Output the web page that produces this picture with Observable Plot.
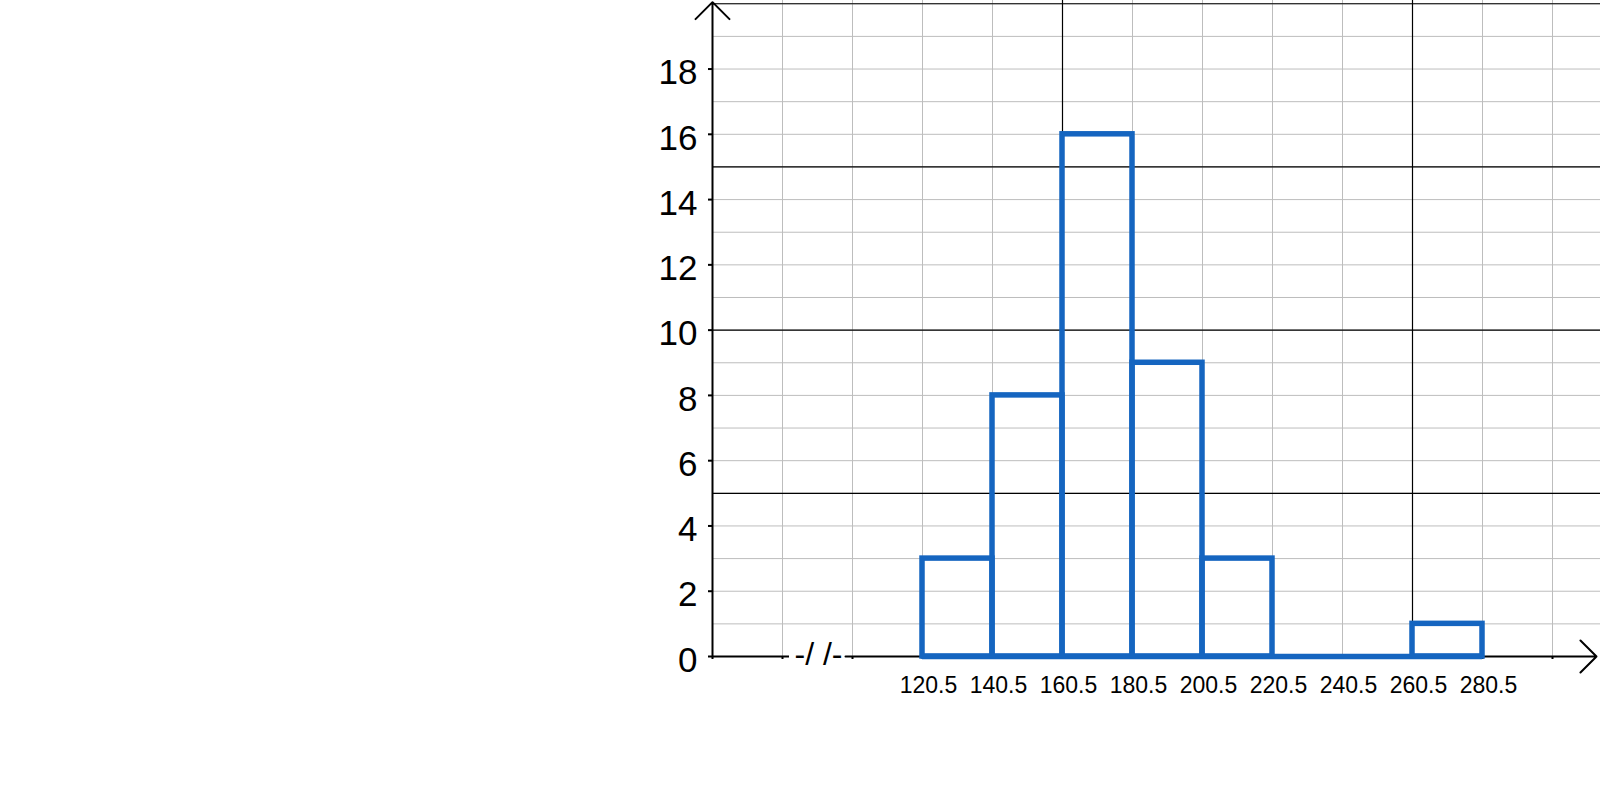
<!DOCTYPE html>
<html>
<head>
<meta charset="utf-8">
<script src="https://cdn.jsdelivr.net/npm/d3@7"></script>
<script src="https://cdn.jsdelivr.net/npm/@observablehq/plot@0.6"></script>
<style>
  html, body { margin: 0; padding: 0; background: #fff; }
  svg { display: block; }
  [aria-label^="x-axis"] line, [aria-label^="x-axis"] path,
  [aria-label^="y-axis"] line, [aria-label^="y-axis"] path { stroke-width: 2px; }
</style>
</head>
<body>
<div id="chart"></div>
<script>
// ---- data ----
const classEdges = [120.5, 140.5, 160.5, 180.5, 200.5, 220.5, 240.5, 260.5, 280.5];
const frequencies = [3, 8, 16, 9, 3, 0, 0, 1];
const yTickValues = [0, 2, 4, 6, 8, 10, 12, 14, 16, 18];
const edgeLabels = ["120.5", "140.5", "160.5", "180.5", "200.5", "220.5", "240.5", "260.5", "280.5"];
const breakSymbol = "-/ /-";

// ---- layout ----
const W = 1600, H = 788;
const mLeft = 712, mBottom = 132;
const classWidth = 20;
const xOrigin = classEdges[0] - 3 * classWidth;      // value where the y-axis crosses
const pxPerUnit = 70 / classWidth;
const xMax = xOrigin + (W - mLeft) / pxPerUnit;
const yTop = 20.1;
const blue = "#1565C0";
const breakX = xOrigin + 1.5 * classWidth;
const breakHalf = 8;

const bars = frequencies.map((f, i) => ({x1: classEdges[i], x2: classEdges[i + 1], f}));
const barsNonZero = bars.filter(d => d.f > 0);
const labels = edgeLabels.map((t, i) => ({x: classEdges[i], t}));

const minorX = d3.range(xOrigin + classWidth, xMax, classWidth);
const majorX = d3.range(xOrigin + 5 * classWidth, xMax, 5 * classWidth);
const minorY = d3.range(1, 21);
const majorY = [5, 10, 15, 20];

const plot = Plot.plot({
  width: W,
  height: H,
  marginLeft: mLeft,
  marginRight: 0,
  marginTop: 0,
  marginBottom: mBottom,
  style: {fontFamily: "'Liberation Sans', Arial, sans-serif", background: "white", overflow: "visible", color: "black"},
  x: {domain: [xOrigin, xMax], ticks: d3.range(xOrigin, xMax, classWidth), tickSize: 3, tickFormat: () => "", label: null},
  y: {domain: [0, yTop], ticks: yTickValues, tickSize: 4, tickFormat: () => "", label: null},
  marks: [
    Plot.ruleX(minorX, {y1: 0, y2: yTop, stroke: "#bdbdbd", strokeWidth: 1}),
    Plot.ruleY(minorY, {x1: xOrigin, x2: xMax, stroke: "#bdbdbd", strokeWidth: 1}),
    Plot.ruleX(majorX, {y1: 0, y2: yTop, stroke: "black", strokeWidth: 1.2}),
    Plot.ruleY(majorY, {x1: xOrigin, x2: xMax, stroke: "black", strokeWidth: 1.2}),
    // y-axis with arrow
    Plot.arrow([0], {x1: xOrigin, y1: 0, x2: xOrigin, y2: 20.05, stroke: "black", strokeWidth: 2, headAngle: 90, headLength: 18}),
    // x-axis: broken segment + arrow
    Plot.ruleY([0], {x1: xOrigin, x2: breakX - breakHalf, stroke: "black", strokeWidth: 2}),
    Plot.arrow([0], {x1: breakX + breakHalf, y1: 0, x2: xOrigin + 884 / pxPerUnit, y2: 0, stroke: "black", strokeWidth: 2, headAngle: 90, headLength: 17}),
    Plot.text([breakSymbol], {x: breakX, y: 0, text: d => d, fontSize: 32, lineAnchor: "middle", dx: 1, dy: -2, fill: "black"}),
    // histogram
    Plot.ruleY([0], {x1: classEdges[0], x2: classEdges[classEdges.length - 1], stroke: blue, strokeWidth: 5.5}),
    Plot.rect(barsNonZero, {x1: "x1", x2: "x2", y1: 0, y2: "f", fill: "none", stroke: blue, strokeWidth: 5.5}),
    // labels
    Plot.text(yTickValues, {x: xOrigin, y: d => d, text: d => String(d), textAnchor: "end", dx: -15, dy: 4, fontSize: 35, lineAnchor: "middle", fill: "black"}),
    Plot.text(labels, {x: "x", y: 0, text: "t", dx: 6, dy: 29, fontSize: 23, lineAnchor: "middle", fill: "black"})
  ]
});
document.getElementById("chart").appendChild(plot);
</script>
</body>
</html>
